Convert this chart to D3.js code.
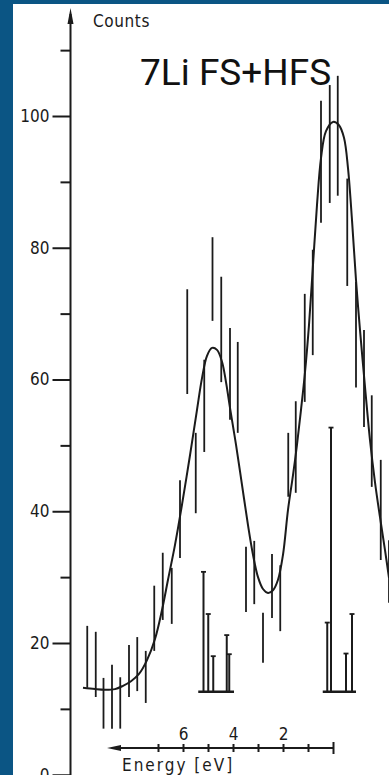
<!DOCTYPE html>
<html><head><meta charset="utf-8">
<script src="https://cdn.jsdelivr.net/npm/d3@7"></script>
<style>html,body{margin:0;padding:0;background:#0b5584;overflow:hidden}</style>
</head><body><svg id="c" width="389" height="775"></svg>
<script>
// ---- data ----
const channelEnergy = [9.83,9.49,9.18,8.84,8.51,8.16,7.83,7.49,7.15,6.81,6.45,6.12,5.83,5.49,5.15,4.82,4.47,4.12,3.81,3.48,3.15,2.80,2.44,2.11,1.79,1.49,1.13,0.81,0.48,0.13,-0.19,-0.57,-0.92,-1.24,-1.55,-1.91,-2.24];
const countHigh = [22.6,21.7,14.7,16.7,14.8,19.7,20.9,18.8,28.7,33.7,31.4,44.7,73.7,51.9,63.0,81.6,75.6,67.8,65.7,34.6,35.5,24.6,33.5,31.8,51.9,56.7,73.0,79.7,102.3,104.7,106.1,90.5,74.8,67.5,57.6,47.8,35.6];
const countLow  = [13.2,11.8,7.0,7.0,7.0,11.8,12.7,10.9,18.8,23.5,22.9,32.9,57.8,39.7,49.0,68.9,59.6,53.9,51.9,24.7,25.9,17.0,23.8,21.8,42.2,42.8,56.6,63.7,83.8,86.8,87.9,74.2,58.8,52.8,43.7,32.6,26.1];

const fitEnergy = [10.0,9.52,9.12,8.72,8.40,8.08,7.76,7.44,7.12,6.84,6.60,6.32,6.04,5.72,5.44,5.24,5.04,4.84,4.64,4.44,4.28,4.12,3.88,3.64,3.40,3.20,3.00,2.80,2.60,2.40,2.20,2.00,1.80,1.60,1.44,1.28,1.12,0.96,0.80,0.64,0.48,0.28,0.00,-0.24,-0.44,-0.60,-0.76,-0.92,-1.08,-1.28,-1.48,-1.68,-1.88,-2.08,-2.24];
const fitCounts = [13.2,13.0,12.9,13.0,13.5,14.2,15.3,17.4,20.6,25.0,29.6,34.9,41.0,48.5,55.4,60.2,63.6,64.8,64.5,62.7,59.6,55.7,50.1,44.0,37.9,33.4,30.0,28.2,27.6,28.0,29.6,33.4,40.2,45.5,50.1,55.4,61.1,68.3,77.4,86.5,93.6,97.7,99.1,98.6,96.7,92.1,84.2,75.1,67.5,58.9,50.8,44.4,39.1,34.1,29.9];

const stickEnergy = [5.18,4.99,4.79,4.25,4.15,0.23,0.08,-0.52,-0.76];
const stickCounts = [30.8,24.4,18.0,21.2,18.3,23.1,52.7,18.4,24.4];
const stickGroupFrom = [5.39,0.41];
const stickGroupTo = [3.96,-0.92];
const stickBase = 12.6;

const yTicksMajor = [0,20,40,60,80,100];
const yTicksMinor = [10,30,50,70,90,110];
const xTicks = [0,1,2,3,4,5,6,7];
const xTickLabels = ["","","2","","4","","6",""];
const arrowEnergy = 9.04;

// ---- drawing ----
const svg = d3.select("#c");
const ink = "#1b1b1b";
const tickFont = "'Liberation Sans Narrow','DejaVu Sans Condensed',sans-serif";

svg.append("rect").attr("width",389).attr("height",775).attr("fill","#0b5584");
svg.append("rect").attr("x",13).attr("y",4).attr("width",376).attr("height",771).attr("fill","#ffffff");

const y = d3.scaleLinear().domain([0,100]).range([774.75,116]);
const x = d3.scaleLinear().domain([0,7]).range([333,158]);

// y axis
const yAxisX = 70.5;
const gy = svg.append("g").attr("transform",`translate(${yAxisX},0)`);
gy.call(d3.axisLeft(y).tickValues(yTicksMajor).tickSize(18).tickPadding(3).tickFormat(d3.format("d")));
const gy2 = svg.append("g").attr("transform",`translate(${yAxisX},0)`);
gy2.call(d3.axisLeft(y).tickValues(yTicksMinor).tickSize(10).tickFormat(""));
[gy,gy2].forEach(g=>{
  g.select(".domain").remove();
  g.selectAll(".tick line").attr("stroke",ink).attr("stroke-width",2);
  g.selectAll("text").attr("fill",ink).style("font-family",tickFont).style("font-size","17px");
});
svg.append("line").attr("x1",yAxisX).attr("x2",yAxisX).attr("y1",14).attr("y2",775)
  .attr("stroke",ink).attr("stroke-width",2);
svg.append("path").attr("d",`M${yAxisX},8L${yAxisX-3},24L${yAxisX+3},24Z`).attr("fill",ink);

svg.append("text").attr("x",93).attr("y",27).text("Counts")
  .attr("fill",ink).style("font-family",tickFont).style("font-size","17px").style("letter-spacing","0.6px");

// energy axis
const axY = 748;
const gx = svg.append("g").attr("transform",`translate(0,${axY})`);
gx.call(d3.axisTop(x).tickValues(xTicks).tickSize(4).tickPadding(4).tickFormat((d,i)=>xTickLabels[i]));
const gx2 = svg.append("g").attr("transform",`translate(0,${axY})`);
gx2.call(d3.axisBottom(x).tickValues(xTicks).tickSize(4).tickFormat(""));
[gx,gx2].forEach(g=>{
  g.select(".domain").remove();
  g.selectAll(".tick line").attr("stroke",ink).attr("stroke-width",2);
  g.selectAll("text").attr("fill",ink).style("font-family",tickFont).style("font-size","17px");
});
gx.selectAll(".tick").filter(d=>d===0).select("line").attr("y2",-6);
gx2.selectAll(".tick").filter(d=>d===0).select("line").attr("y2",6);
svg.append("line").attr("x1",x(arrowEnergy)+6).attr("x2",x(0)).attr("y1",axY).attr("y2",axY)
  .attr("stroke",ink).attr("stroke-width",2);
svg.append("path").attr("d",`M${x(arrowEnergy)},${axY}L${x(arrowEnergy)+14},${axY-3}L${x(arrowEnergy)+14},${axY+3}Z`).attr("fill",ink);
svg.append("text").attr("x",122).attr("y",771).text("Energy [eV]")
  .attr("fill",ink).style("font-family",tickFont).style("font-size","17px").style("letter-spacing","2px");

// error bars
svg.append("g").selectAll("line").data(channelEnergy).join("line")
  .attr("x1",d=>x(d)).attr("x2",d=>x(d))
  .attr("y1",(d,i)=>y(countHigh[i])).attr("y2",(d,i)=>y(countLow[i]))
  .attr("stroke",ink).attr("stroke-width",1.8);

// fitted curve
const line = d3.line().x(d=>x(d[0])).y(d=>y(d[1])).curve(d3.curveCatmullRom.alpha(0.5));
svg.append("path").datum(fitEnergy.map((e,i)=>[e,fitCounts[i]]))
  .attr("d",line).attr("fill","none").attr("stroke",ink).attr("stroke-width",2);

// stick spectrum
const gs = svg.append("g");
gs.selectAll("line.base").data(stickGroupFrom).join("line").attr("class","base")
  .attr("x1",d=>x(d)).attr("x2",(d,i)=>x(stickGroupTo[i]))
  .attr("y1",y(stickBase)).attr("y2",y(stickBase)).attr("stroke",ink).attr("stroke-width",2.5);
gs.selectAll("line.stick").data(stickEnergy).join("line").attr("class","stick")
  .attr("x1",d=>x(d)).attr("x2",d=>x(d))
  .attr("y1",(d,i)=>y(stickCounts[i])).attr("y2",y(stickBase)).attr("stroke",ink).attr("stroke-width",2);
gs.selectAll("line.cap").data(stickEnergy).join("line").attr("class","cap")
  .attr("x1",d=>x(d)-2.5).attr("x2",d=>x(d)+2.5)
  .attr("y1",(d,i)=>y(stickCounts[i])).attr("y2",(d,i)=>y(stickCounts[i])).attr("stroke",ink).attr("stroke-width",1.8);

// title
svg.append("text").attr("x",140).attr("y",85).text("7Li FS+HFS")
  .attr("fill","#111").style("font-family","Roboto").style("font-size","37px");
</script>
</body></html>
